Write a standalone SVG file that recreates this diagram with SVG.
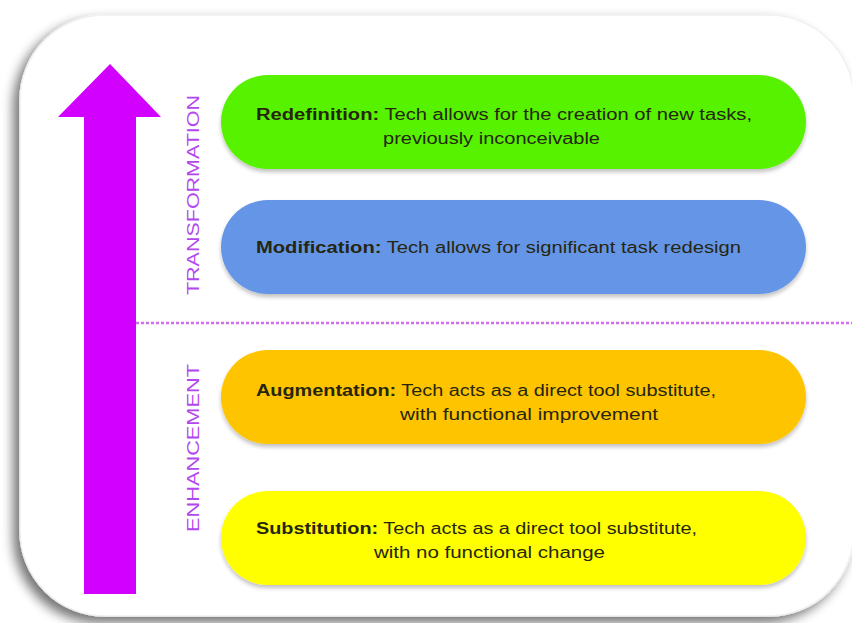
<svg xmlns="http://www.w3.org/2000/svg" width="852" height="623" viewBox="0 0 852 623">
<defs>
<style>
.t{font-family:"Liberation Sans",Arial,sans-serif;font-size:16px;fill:#262610}
.b{font-weight:bold}
.v{font-family:"Liberation Sans",Arial,sans-serif;font-size:17px;fill:#b347ef}
</style>
<filter id="cs" x="-10%" y="-10%" width="120%" height="120%">
<feGaussianBlur in="SourceAlpha" stdDeviation="6"/>
<feOffset dx="-6" dy="6"/>
<feComponentTransfer><feFuncA type="linear" slope="0.55"/></feComponentTransfer>
<feMerge><feMergeNode/><feMergeNode in="SourceGraphic"/></feMerge>
</filter>
<filter id="ps" x="-5%" y="-10%" width="110%" height="130%">
<feGaussianBlur in="SourceAlpha" stdDeviation="2"/>
<feOffset dx="0" dy="3"/>
<feComponentTransfer><feFuncA type="linear" slope="0.25"/></feComponentTransfer>
<feMerge><feMergeNode/><feMergeNode in="SourceGraphic"/></feMerge>
</filter>
</defs>
<rect width="852" height="623" fill="#ffffff"/>
<rect x="20" y="15" width="834" height="601" rx="85" fill="#ffffff" stroke="#f0f0f0" stroke-width="1.5" filter="url(#cs)"/>
<g id="arrow">
<polygon points="110,64 161,117 136,117 136,594 84,594 84,117 58,117" fill="#d200ff"/>
</g>
<g id="connectors">
<line x1="136" y1="323" x2="852" y2="323" stroke="#d46cf0" stroke-width="2.5" stroke-dasharray="3,2"/>
</g>
<g id="label-transformation">
<text class="v" transform="translate(199,195) rotate(-90)" text-anchor="middle" textLength="200" lengthAdjust="spacingAndGlyphs">TRANSFORMATION</text>
</g>
<g id="label-enhancement">
<text class="v" transform="translate(199,448) rotate(-90)" text-anchor="middle" textLength="168" lengthAdjust="spacingAndGlyphs">ENHANCEMENT</text>
</g>
<g id="redefinition">
<rect x="221" y="75" width="585" height="94" rx="47" fill="#56f200" filter="url(#ps)"/>
<text class="t" x="256" y="120" textLength="496" lengthAdjust="spacingAndGlyphs"><tspan class="b">Redefinition:</tspan>  Tech allows for the creation of new tasks,</text>
<text class="t" x="383" y="144" textLength="217" lengthAdjust="spacingAndGlyphs">previously inconceivable</text>
</g>
<g id="modification">
<rect x="221" y="200" width="585" height="94" rx="47" fill="#6595e6" filter="url(#ps)"/>
<text class="t" x="256" y="253" textLength="485" lengthAdjust="spacingAndGlyphs"><tspan class="b">Modification:</tspan>  Tech allows for significant task redesign</text>
</g>
<g id="augmentation">
<rect x="221" y="350" width="585" height="94" rx="47" fill="#ffc400" filter="url(#ps)"/>
<text class="t" x="256" y="396" textLength="460" lengthAdjust="spacingAndGlyphs"><tspan class="b">Augmentation:</tspan> Tech acts as a direct tool substitute,</text>
<text class="t" x="400" y="420" textLength="258" lengthAdjust="spacingAndGlyphs">with functional improvement</text>
</g>
<g id="substitution">
<rect x="221" y="491" width="585" height="94" rx="47" fill="#ffff00" filter="url(#ps)"/>
<text class="t" x="256" y="534" textLength="441" lengthAdjust="spacingAndGlyphs"><tspan class="b">Substitution:</tspan> Tech acts as a direct tool substitute,</text>
<text class="t" x="374" y="558" textLength="231" lengthAdjust="spacingAndGlyphs">with no functional change</text>
</g>
</svg>
